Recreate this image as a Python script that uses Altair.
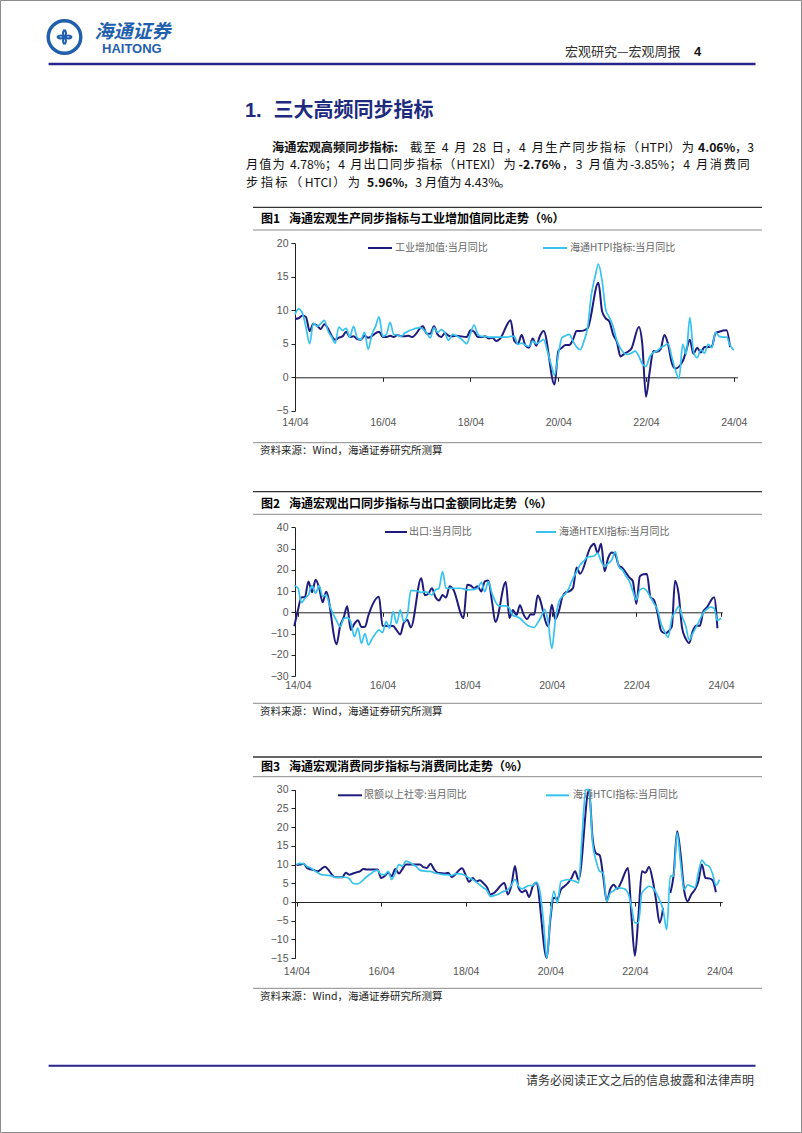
import math
import altair as alt
import pandas as pd

W, H = 802, 1133
CJK = "Noto Sans CJK SC"
LAT = "Liberation Sans"
NAVY = "#1e1b7c"
CYAN = "#36c3ef"
TITLE_BLUE = "#1d2a7e"
LOGO = "#1f5fae"
AX = "#222222"
LBL = "#555555"

# ---------------- data (monthly, None = not shown) ----------------
# Chart 1: 工业增加值:当月同比 (2014-04 .. 2024-04)
iva = [8.7, 8.8, 9.2, 9.0, 6.9, 8.0, 7.7, 7.2, 7.9,
       None, None, 5.6, 5.9, 6.1, 6.8, 6.0, 6.1, 5.7, 5.6, 6.2, 5.9,
       None, None, 6.8, 6.0, 6.0, 6.2, 6.0, 6.3, 6.1, 6.1, 6.2, 6.0,
       None, None, 7.6, 6.5, 6.5, 7.6, 6.4, 6.0, 6.6, 6.2, 6.1, 6.2,
       None, None, 6.0, 7.0, 6.8, 6.0, 6.0, 6.1, 5.8, 5.9, 5.4, 5.7,
       None, None, 8.5, 5.4, 5.0, 6.3, 4.8, 4.4, 5.8, 4.7, 6.2, 6.9,
       None, None, -1.1, 3.9, 4.4, 4.8, 4.8, 5.6, 6.9, 6.9, 7.0, 7.3,
       None, None, 14.1, 9.8, 8.8, 8.3, 6.4, 5.3, 3.1, 3.5, 3.8, 4.3,
       None, 7.5, 5.0, -2.9, 0.7, 3.9, 3.8, 4.2, 6.3, 5.0, 2.2, 1.3,
       None, 2.4, 3.9, 5.6, 3.5, 4.4, 3.7, 4.5, 4.5, 4.6, 6.6, 6.8,
       None, 7.0, 4.5, None]
# 海通HTPI指标:当月同比
htpi = [9.4, 10.2, 9.6, 7.5, 5.0, 8.1, 7.6, 8.0, 8.5,
        6.9, 6.0, 5.1, 7.5, 7.0, 7.3, 6.0, 7.6, 5.9, 5.6, 6.7, 4.2,
        6.4, 7.6, 9.0, 6.1, 6.4, 8.2, 6.4, 6.3, 6.1, 6.6, 6.9, 7.1,
        7.3, 7.4, 7.2, 6.6, 5.9, 7.4, 6.7, 7.1, 6.6, 5.5, 6.4, 6.2,
        5.9, 5.4, 5.0, 6.5, 7.8, 6.4, 6.1, 6.1, 6.0, 6.0, 6.0, 6.0,
        6.0, 6.0, 6.1, 6.1, 4.9, 5.1, 4.8, 4.6, 5.4, 5.0, 5.3, 5.6,
        3.9, 1.9, 0.3, 3.4, 5.9, 6.2, 6.4, 5.4, 4.5, 4.1, 5.4, 7.4,
        12.3, 15.0, 16.9, 14.3, 10.1, 8.9, 7.6, 5.5, 4.3, 3.6, 3.4, 3.6,
        3.9, 3.1, 2.0, 1.6, 3.0, 3.7, 3.9, 4.4, 4.7, 5.0, 3.1, 1.1,
        -0.2, 4.9, 3.4, 8.9, 3.9, 2.9, 4.1, 3.6, 4.9, 4.4, 6.7, 6.1,
        6.0, 6.0, 4.78, 4.06]

# Chart 2: 出口:当月同比 (2014-03 .. 2024-04)
exports = [-6.6,
           0.9, 7.0, 7.2, 14.5, 9.4, 15.3, 11.6, 4.7, 9.7,
           None, None, -15.0, -6.4, -2.5, 2.8, -8.3, -5.5, -3.7, -6.9, -6.8, -1.4,
           None, None, 7.3, -6.4, -6.5, -6.4, -6.5, -8.5, -10.5, -5.0, -3.6, -7.1,
           None, None, 16.0, 8.0, 8.7, 11.3, 7.2, 5.5, 8.1, 6.9, 12.3, 10.9,
           None, None, -2.7, 12.9, 12.6, 11.3, 12.2, 9.8, 14.5, 15.0, 5.4, -4.6,
           None, None, 14.2, -2.7, 1.1, -1.3, 3.3, -1.0, -3.2, -0.9, -1.1, 7.9,
           None, None, -6.6, 3.5, -3.3, 0.5, 7.2, 9.5, 9.9, 11.4, 21.1, 18.1,
           None, None, 30.6, 32.3, 27.9, 32.2, 19.3, 25.6, 28.1, 27.1, 22.0, 20.9,
           None, 16.3, 14.7, 3.9, 16.9, 17.9, 18.0, 7.1, 5.7, -0.3, -8.7, -9.9,
           None, -6.8, 14.8, 8.5, -7.5, -12.4, -14.5, -8.8, -6.2, -6.4, 0.5, 2.3,
           None, 7.1, -7.5, None]
# 海通HTEXI指标:当月同比
htexi = [12.5,
         11.5, 4.5, 6.6, 8.2, 12.5, 9.0, 12.5, 7.5, 8.2,
         3.0, -1.0, -4.0, -6.8, -3.0, -2.5, -4.5, -11.5, -7.5, -14.6, -10.0, -15.4,
         -12.5, -10.0, -8.3, -9.6, -4.4, -7.5, 0.3, -5.2, 1.1, -4.4, -1.3, 10.2,
         10.2, 10.0, 9.3, 9.7, 9.0, 8.2, 10.5, 11.3, 19.2, 11.3, 11.3, 11.3,
         11.3, 11.3, 11.0, 10.5, 10.6, 10.8, 11.3, 14.1, 9.7, 14.4, 9.0, 5.0,
         3.0, 3.0, 3.0, 1.9, -1.5, -2.0, -2.8, -4.5, -6.0, -6.8, -7.1, -5.0,
         -2.0, 1.4, -5.0, -17.0, -4.0, 5.0, 7.4, 9.0, 12.0, 16.0, 19.0, 22.3,
         24.0, 25.9, 26.2, 26.5, 27.8, 24.0, 21.5, 23.0, 24.6, 28.6, 21.5, 19.9,
         17.0, 14.4, 10.0, 5.8, 10.5, 11.3, 10.0, 7.1, 4.0, 1.1, -5.5, -9.0,
         -11.8, -2.8, 0.0, 2.7, -2.0, -6.4, -13.0, -10.0, -6.8, -3.5, -0.2, 1.5,
         2.4, 1.9, -3.85, -2.76]

# Chart 3: 限额以上社零:当月同比 (2014-04 .. 2024-04)
retail = [9.9, 10.0, 10.2, 9.1, 8.7, 8.5, 8.2, 8.8, 9.4,
          None, None, 6.6, 6.6, 6.6, 7.8, 7.3, 7.6, 7.9, 8.2, 8.8, 8.7,
          None, None, 8.7, 6.4, 6.9, 7.8, 6.9, 8.8, 7.6, 8.8, 10.0, 10.0,
          None, None, 10.0, 9.3, 9.1, 10.2, 8.8, 7.8, 7.7, 7.6, 7.8, 6.7,
          None, None, 9.0, 7.2, 5.4, 6.4, 5.5, 5.8, 5.0, 4.0, 2.0, 2.4,
          None, None, 5.1, 2.0, 4.5, 9.6, 3.8, 2.6, 3.1, 1.3, 4.2, 5.1,
          None, None, -15.0, -4.7, 1.1, 0.8, 3.3, 4.2, 5.1, 6.4, 8.2, 6.0,
          None, None, 34.0, 17.0, 13.0, 12.5, 7.0, 0.2, 3.5, 4.6, 3.5, 5.1,
          None, 9.1, -3.0, -14.4, -4.0, 8.2, 7.8, 9.4, 6.0, 0.5, -5.6, -1.6,
          None, 2.4, 7.0, 18.9, 12.7, 3.0, 0.2, 2.0, 3.3, 5.5, 10.0, 6.4,
          6.3, 5.8, 2.6, None]
retail_breaks = ["2023-01"]
# 海通HTCI指标:当月同比
htci = [10.0, 10.3, 10.2, 9.5, 9.1, 8.4, 7.8, 7.3, 7.2,
        7.1, 6.9, 6.6, 6.6, 6.6, 6.6, 6.2, 5.0, 4.8, 5.1, 6.0, 6.8,
        7.5, 8.2, 8.5, 7.3, 7.3, 8.2, 6.0, 7.8, 10.0, 9.6, 10.9, 10.6,
        10.0, 9.4, 8.5, 8.3, 8.2, 8.2, 7.8, 7.6, 7.4, 7.3, 7.2, 7.1,
        7.5, 7.6, 7.4, 7.0, 6.4, 6.0, 5.3, 4.6, 3.8, 3.1, 1.5, 1.7,
        2.0, 2.5, 2.9, 3.3, 4.5, 6.0, 4.2, 3.5, 4.0, 4.4, 4.4, 5.3,
        3.0, -5.0, -15.0, -3.8, 2.9, -0.3, 5.5, 5.8, 6.0, 5.8, 5.5, 5.1,
        18.0, 35.0, 38.0, 15.8, 11.0, 8.2, 7.8, 0.2, 2.4, 3.0, 3.8, 3.7,
        3.5, 2.4, -1.0, -5.6, -5.6, 2.4, 3.5, 4.2, 3.8, 2.5, 0.5, -2.1,
        -7.4, 6.9, 6.9, 18.5, 10.4, 3.3, 4.6, 4.2, 3.8, 7.8, 11.2, 10.0,
        9.6, 7.5, 4.43, 5.96]

names1 = ["工业增加值:当月同比", "海通HTPI指标:当月同比"]
names2 = ["出口:当月同比", "海通HTEXI指标:当月同比"]
names3 = ["限额以上社零:当月同比", "海通HTCI指标:当月同比"]
tick_years = [2014, 2016, 2018, 2020, 2022, 2024]
y1_ticks = [-5, 0, 5, 10, 15, 20]
y2_ticks = [-30, -20, -10, 0, 10, 20, 30, 40]
y3_ticks = [-15, -10, -5, 0, 5, 10, 15, 20, 25, 30]


def series_df(values, start, breaks=()):
    dates = pd.date_range(start, periods=len(values), freq="MS")
    rows, seg = [], 0
    for d, v in zip(dates, values):
        if d.strftime("%Y-%m") in breaks:
            seg += 1
        if v is None:
            continue
        rows.append({"date": d.strftime("%Y-%m-%d"), "value": v, "seg": seg})
    return pd.DataFrame(rows)


def dt(y, m, d):
    return alt.DateTime(year=y, month=m, date=d, utc=True)


def line_panel(dfs, x_dom, x_rng, y_dom, y_rng, y_ticks, zero_px, lab_pad, clamp=False):
    xenc = alt.X("date:T",
                 scale=alt.Scale(type="utc", domain=x_dom, range=x_rng),
                 axis=alt.Axis(orient="bottom", offset=zero_px - H,
                               values=[dt(y, 4, 1) for y in tick_years],
                               format="%y/%m", title=None, grid=False,
                               labelFont=LAT, labelFontSize=10.5, labelColor=LBL,
                               labelPadding=lab_pad, labelFlush=False, labelOverlap=False,
                               tickSize=4, tickColor=AX, domainColor=AX,
                               tickWidth=1, domainWidth=1))
    yenc = alt.Y("value:Q",
                 scale=alt.Scale(domain=y_dom, range=y_rng, nice=False, zero=False, clamp=clamp),
                 axis=alt.Axis(orient="left", offset=-295, values=y_ticks, title=None,
                               grid=False, labelFont=LAT, labelFontSize=10.5,
                               labelColor=LBL, labelPadding=3, tickSize=4,
                               tickColor=AX, domainColor=AX, tickWidth=1, domainWidth=1))
    dark = alt.Chart(dfs[0]).mark_line(color=NAVY, strokeWidth=2, interpolate="monotone").encode(
        x=xenc, y=yenc, detail="seg:N")
    light = alt.Chart(dfs[1]).mark_line(color=CYAN, strokeWidth=1.7, interpolate="monotone").encode(
        x=xenc, y=yenc)
    return alt.layer(dark, light)


def txt(s, x, y, size=12, weight="normal", color="#111111", font=CJK, align="left", style="normal"):
    return alt.Chart(pd.DataFrame({"t": [s]})).mark_text(
        align=align, baseline="middle", fontSize=size, fontWeight=weight,
        color=color, font=font, fontStyle=style).encode(
        text="t:N", x=alt.value(x), y=alt.value(y))


def hrule(x1, x2, y, color, width=1.0):
    return alt.Chart(pd.DataFrame({"a": [0]})).mark_rule(color=color, strokeWidth=width).encode(
        x=alt.value(x1), x2=alt.value(x2), y=alt.value(y))


def arc(cx, cy, r, r2, t1, t2, color):
    return alt.Chart(pd.DataFrame({"a": [0]})).mark_arc(
        radius=r, radius2=r2, theta=t1, theta2=t2, color=color).encode(
        x=alt.value(cx), y=alt.value(cy))


# ---- justified paragraph: CJK chars and Latin runs spread over each span ----
LATIN_W = {"H": 0.68, "T": 0.56, "P": 0.62, "I": 0.27, "E": 0.56, "X": 0.6, "C": 0.62,
           ".": 0.26, "%": 0.86, "-": 0.34, ":": 0.26, " ": 0.25}


def char_w(c, fs):
    if ord(c) >= 0x2E80 or c in "，；：（）。":
        return fs
    if c.isdigit():
        return 0.55 * fs
    return LATIN_W.get(c, 0.56) * fs


def split_units(s):
    units, run = [], ""
    for c in s:
        if c.isascii() and (c.isalnum() or c in ".%-:"):
            run += c
        else:
            if run:
                units.append(run)
                run = ""
            units.append(c)
    if run:
        units.append(run)
    return units


def justified(s, x0, x1, y, fs, weight):
    units = split_units(s)
    ws = [sum(char_w(c, fs) for c in u) for u in units]
    n = len(units)
    if x1 is None or n < 2:
        extra = 0.0
    else:
        extra = max(0.0, (x1 - x0 - sum(ws)) / (n - 1))
    xs, cur = [], x0
    for w in ws:
        xs.append(cur)
        cur += w + extra
    df = pd.DataFrame({"x": xs, "c": units})
    df = df[df["c"] != " "]
    return alt.Chart(df).mark_text(align="left", baseline="middle", fontSize=fs,
                                   fontWeight=weight, font=CJK, color="#111111").encode(
        x=alt.X("x:Q", scale=None, axis=None), y=alt.value(y), text="c:N")


layers = []
# page border
layers.append(alt.Chart(pd.DataFrame({"a": [0]})).mark_rect(
    fillOpacity=0, stroke="#8c8c8c", strokeWidth=1).encode(
    x=alt.value(0.5), x2=alt.value(801.5), y=alt.value(0.5), y2=alt.value(1132.5)))

# header: logo (ring + pinwheel hooks)
cx, cy = 64.5, 37
layers.append(arc(cx, cy, 18, 14.6, 0, 6.2832, LOGO))
for k in range(4):
    phi = math.pi / 4 + k * math.pi / 2
    hx, hy = cx + 5.2 * math.sin(phi), cy - 5.2 * math.cos(phi)
    t1 = phi + math.pi / 2
    layers.append(arc(hx, hy, 6.2, 3.9, t1, t1 + math.pi, LOGO))
layers += [
    txt("海通证券", 94.6, 31.5, size=19, weight="bold", color=LOGO, style="italic"),
    txt("HAITONG", 102, 49.3, size=13, weight="bold", color=LOGO, font=LAT),
    txt("宏观研究—宏观周报", 565, 51.7, size=13, color="#333333"),
    txt("4", 694, 51.7, size=13, weight="bold", color="#111111", font=LAT),
    hrule(48.6, 755.5, 64, "#27248a", 2.5),
]

# section title and paragraph
layers += [
    txt("1.", 245, 111, size=20, weight="bold", color=TITLE_BLUE, font=LAT),
    txt("三大高频同步指标", 273.6, 111, size=20, weight="bold", color=TITLE_BLUE),
]
P = 12.2
para = [
    ("海通宏观高频同步指标:", 272, 397, 148.3, "bold"),
    ("截至 4 月 28 日，4 月生产同步指标（HTPI）为", 410, 694, 148.3, "normal"),
    ("4.06%", 698, 733, 148.3, "bold"),
    ("，3", 735, 754, 148.3, "normal"),
    ("月值为 4.78%；4 月出口同步指标（HTEXI）为", 246, 515.7, 165, "normal"),
    ("-2.76%", 518.6, 558.6, 165, "bold"),
    ("，3 月值为-3.85%；4 月消费同", 562, 749.6, 165, "normal"),
    ("步指标（HTCI）为", 246, 360, 182.7, "normal"),
    ("5.96%", 367, None, 182.7, "bold"),
    ("，3 月值为 4.43%。", 403, None, 182.7, "normal"),
]
for s, x0, x1, y, w in para:
    layers.append(justified(s, x0, x1, y, P, w))

# figure frames
figs = [
    ("图1", "海通宏观生产同步指标与工业增加值同比走势（%）", 207.3, 219.3, 230, 442.7, 451),
    ("图2", "海通宏观出口同步指标与出口金额同比走势（%）", 491.7, 504, 514.3, 703.3, 711.7),
    ("图3", "海通宏观消费同步指标与消费同比走势（%）", 757, 766.7, 776.7, 988.3, 996.7),
]
for num, title, ytop, ytitle, ybot, ysrc, ysrctxt in figs:
    layers += [
        hrule(253, 762, ytop, "#333333", 1.3),
        txt(num, 261, ytitle, size=12, weight="bold", color="#000000"),
        txt(title, 289, ytitle, size=12, weight="bold", color="#000000"),
        hrule(253, 762, ybot, "#8a8a8a", 1),
        hrule(253, 762, ysrc, "#8a8a8a", 1),
        txt("资料来源：Wind，海通证券研究所测算", 260, ysrctxt, size=10.5, color="#222222"),
    ]

# legends
legs = [
    (names1, 248, (368, 392, 395), (543, 567, 570)),
    (names2, 532, (385, 407, 409), (536, 556, 559)),
    (names3, 795.3, (338, 362, 364), (546, 569, 573)),
]
for nm, ly, a, b in legs:
    layers += [
        hrule(a[0], a[1], ly, NAVY, 2),
        txt(nm[0], a[2], ly, size=10, color="#666666"),
        hrule(b[0], b[1], ly, CYAN, 2),
        txt(nm[1], b[2], ly, size=10, color="#666666"),
    ]

# footer
layers += [
    hrule(48.6, 755.5, 1065.7, "#27248a", 2),
    txt("请务必阅读正文之后的信息披露和法律声明", 526, 1080.7, size=12, color="#333333"),
]

# line panels
p1 = line_panel([series_df(iva, "2014-04-01"), series_df(htpi, "2014-04-01")],
                [dt(2014, 4, 1), dt(2024, 5, 1)], [295, 737.4],
                [-5, 20], [410.7, 243.3], y1_ticks, 377.3, 36)
p2 = line_panel([series_df(exports, "2014-03-01"), series_df(htexi, "2014-03-01")],
                [dt(2014, 3, 7), dt(2024, 4, 12)], [295, 722.3],
                [-30, 40], [676, 527.3], y2_ticks, 612.3, 64)
p3 = line_panel([series_df(retail, "2014-04-01", retail_breaks), series_df(htci, "2014-04-01")],
                [dt(2014, 3, 19), dt(2024, 4, 25)], [295, 722.3],
                [-15, 30], [958.1, 789.7], y3_ticks, 902, 60, clamp=True)
layers += [p1, p2, p3]

chart = alt.layer(*layers).resolve_scale(
    x="independent", y="independent").resolve_axis(
    x="independent", y="independent").properties(
    width=W, height=H, padding=0,
    autosize=alt.AutoSizeParams(type="none"),
    background="white").configure_view(stroke=None)

chart.save("out.html", embed_options={"renderer": "svg", "actions": False})
